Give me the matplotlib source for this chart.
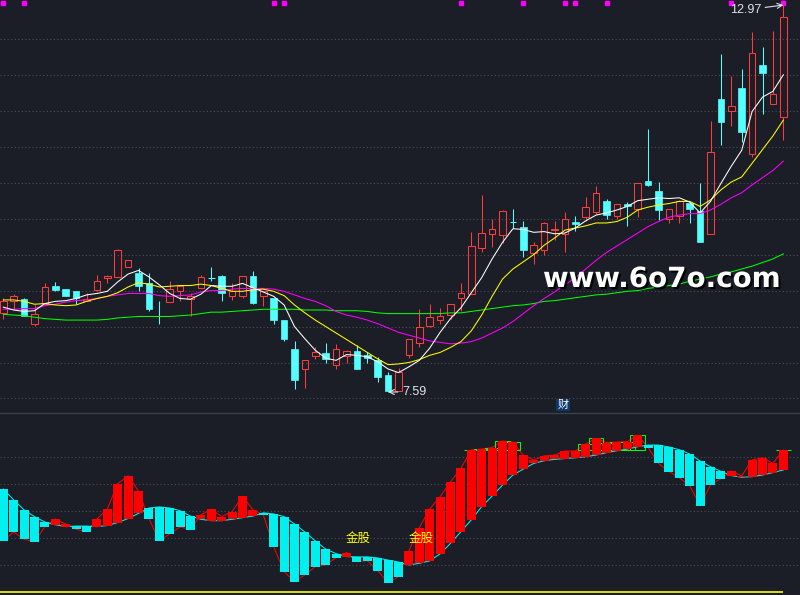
import matplotlib
matplotlib.use("Agg")
import matplotlib.pyplot as plt
import matplotlib.patheffects as pe
import matplotlib.transforms as mtransforms
from matplotlib.patches import Rectangle
import numpy as np

# ---- daily bars ----
opens = [8.69, 8.85, 8.88, 8.54, 8.82, 9.06, 9.02, 8.99, 8.86, 9.01,
         9.17, 9.19, 9.33, 9.25, 9.10, 8.66, 8.84, 9.00, 8.88, 9.03,
         9.19, 9.20, 8.92, 8.93, 9.20, 8.92, 8.90, 8.59, 8.19, 7.91,
         8.09, 8.13, 7.96, 8.09, 8.16, 8.10, 8.04, 7.83, 7.61, 8.11,
         8.27, 8.51, 8.59, 8.66, 8.89, 8.95, 9.59, 9.78, 9.77, 9.96,
         9.88, 9.52, 9.57, 9.84, 9.78, 9.95, 10.02, 10.09, 10.24, 10.04,
         10.20, 10.13, 10.52, 10.39, 10.00, 10.04, 10.22, 10.11, 9.78, 11.66,
         11.49, 11.81, 10.90, 12.14, 11.59, 11.41]
highs = [8.89, 8.95, 8.89, 8.80, 9.11, 9.12, 9.02, 9.00, 8.96, 9.22,
         9.22, 9.58, 9.43, 9.31, 9.25, 8.86, 9.13, 9.06, 8.96, 9.22,
         9.33, 9.22, 9.11, 9.20, 9.27, 8.99, 8.90, 8.59, 8.30, 8.04,
         8.21, 8.27, 8.26, 8.18, 8.24, 8.14, 8.08, 7.87, 7.93, 8.32,
         8.75, 8.81, 8.76, 8.81, 9.11, 9.81, 10.33, 9.99, 10.12, 10.13,
         9.97, 9.68, 9.96, 9.97, 10.09, 10.04, 10.30, 10.45, 10.27, 10.20,
         10.23, 10.49, 11.25, 10.51, 10.14, 10.26, 10.22, 10.50, 11.36, 12.29,
         11.98, 12.08, 12.59, 12.38, 12.61, 12.97]
lows = [8.60, 8.75, 8.64, 8.51, 8.80, 8.99, 8.92, 8.82, 8.85, 8.99,
        9.11, 9.19, 9.33, 8.99, 8.71, 8.53, 8.84, 8.85, 8.64, 9.03,
        9.14, 8.86, 8.87, 8.89, 8.81, 8.79, 8.54, 8.30, 7.63, 7.65,
        8.05, 8.00, 7.91, 7.99, 7.91, 7.99, 7.73, 7.59, 7.60, 8.06,
        8.22, 8.50, 8.54, 8.61, 8.72, 8.95, 9.53, 9.60, 9.66, 9.87,
        9.47, 9.37, 9.50, 9.70, 9.54, 9.83, 9.97, 10.07, 9.99, 10.00,
        9.90, 10.02, 10.45, 9.98, 9.94, 9.94, 9.94, 9.68, 9.78, 11.02,
        11.29, 11.06, 10.86, 11.45, 11.59, 11.10]
closes = [8.86, 8.93, 8.65, 8.67, 9.05, 9.01, 8.92, 8.89, 8.88, 9.13,
          9.20, 9.56, 9.43, 9.06, 8.74, 8.65, 9.02, 9.06, 8.93, 9.19,
          9.18, 8.96, 8.99, 9.20, 8.83, 8.99, 8.59, 8.33, 7.76, 8.04,
          8.15, 8.05, 8.19, 8.16, 7.91, 8.06, 7.80, 7.60, 7.87, 8.32,
          8.49, 8.63, 8.64, 8.81, 8.96, 9.62, 9.80, 9.85, 10.10, 9.95,
          9.57, 9.63, 9.94, 9.86, 9.99, 9.92, 10.16, 10.35, 10.05, 10.20,
          10.18, 10.49, 10.47, 10.12, 10.14, 10.24, 10.14, 9.68, 10.93, 11.35,
          11.57, 11.20, 12.31, 12.03, 11.74, 12.80]

# moving averages as drawn on the chart
ma5 = [8.77, 8.73, 8.71, 8.72, 8.82, 8.85, 8.86, 8.89, 8.94, 8.96,
       8.99, 9.12, 9.23, 9.28, 9.19, 9.08, 8.96, 8.89, 8.88, 8.95,
       9.07, 9.06, 9.06, 9.10, 9.04, 8.98, 8.92, 8.80, 8.50, 8.33,
       8.17, 8.06, 8.03, 8.11, 8.10, 8.08, 8.01, 7.91, 7.86, 7.94,
       8.03, 8.20, 8.42, 8.61, 8.76, 8.97, 9.18, 9.44, 9.67, 9.86,
       9.85, 9.81, 9.82, 9.79, 9.80, 9.87, 9.97, 10.05, 10.08, 10.12,
       10.17, 10.25, 10.27, 10.29, 10.28, 10.29, 10.23, 10.08, 10.24, 10.49,
       10.73, 10.95, 11.49, 11.69, 11.77, 12.00]
ma10 = [8.87, 8.87, 8.85, 8.81, 8.82, 8.80, 8.79, 8.80, 8.85, 8.89,
        8.92, 8.97, 9.05, 9.11, 9.09, 9.05, 9.06, 9.07, 9.07, 9.09,
        9.07, 9.03, 8.99, 8.99, 9.01, 9.02, 8.99, 8.93, 8.80, 8.69,
        8.59, 8.50, 8.41, 8.32, 8.23, 8.14, 8.05, 7.97, 7.98, 8.00,
        8.04, 8.10, 8.14, 8.21, 8.29, 8.44, 8.66, 8.92, 9.16, 9.30,
        9.40, 9.50, 9.63, 9.73, 9.84, 9.87, 9.90, 9.94, 9.94, 9.96,
        10.02, 10.12, 10.16, 10.19, 10.21, 10.24, 10.24, 10.17, 10.26, 10.40,
        10.51, 10.58, 10.77, 10.96, 11.15, 11.37]
ma20 = [8.74, 8.74, 8.75, 8.75, 8.79, 8.81, 8.84, 8.86, 8.87, 8.89,
        8.92, 8.94, 8.96, 8.96, 8.96, 8.93, 8.92, 8.93, 8.94, 8.98,
        9.00, 9.00, 9.02, 9.03, 9.03, 9.03, 9.02, 8.99, 8.94, 8.89,
        8.85, 8.79, 8.71, 8.66, 8.63, 8.59, 8.54, 8.48, 8.42, 8.38,
        8.34, 8.30, 8.28, 8.26, 8.27, 8.29, 8.34, 8.41, 8.48, 8.57,
        8.68, 8.79, 8.89, 8.98, 9.08, 9.18, 9.30, 9.42, 9.53, 9.62,
        9.71, 9.80, 9.89, 9.96, 10.02, 10.05, 10.07, 10.07, 10.12, 10.20,
        10.29, 10.36, 10.47, 10.57, 10.67, 10.80]
ma60 = [8.67, 8.66, 8.65, 8.63, 8.61, 8.60, 8.59, 8.59, 8.59, 8.59,
        8.60, 8.62, 8.63, 8.64, 8.64, 8.64, 8.64, 8.65, 8.66, 8.68,
        8.70, 8.70, 8.71, 8.72, 8.73, 8.74, 8.74, 8.74, 8.74, 8.73,
        8.73, 8.73, 8.72, 8.72, 8.72, 8.71, 8.69, 8.68, 8.68, 8.68,
        8.68, 8.68, 8.68, 8.69, 8.69, 8.71, 8.73, 8.75, 8.77, 8.79,
        8.80, 8.82, 8.85, 8.86, 8.88, 8.90, 8.92, 8.94, 8.95, 8.97,
        8.99, 9.00, 9.03, 9.05, 9.07, 9.09, 9.13, 9.16, 9.19, 9.23,
        9.26, 9.30, 9.34, 9.39, 9.44, 9.51]

# top-edge signal squares and the "财" marker
signal_idx = [0, 2, 26, 27, 44, 50, 54, 55, 58, 70, 75]
cai_idx = 54

# ---- lower indicator panel ----
fast = [1.92, 2.24, 1.97, 1.88, 2.44, 2.72, 2.54, 2.34, 2.25, 2.72,
        3.09, 4.03, 4.32, 3.76, 2.74, 1.92, 2.17, 2.43, 2.33, 2.88,
        3.09, 2.81, 2.99, 3.57, 3.06, 2.88, 1.70, 0.77, 0.40, 0.65,
        0.96, 1.02, 1.29, 1.48, 1.14, 1.18, 0.81, 0.36, 0.59, 1.54,
        2.40, 3.09, 3.55, 4.10, 4.60, 5.28, 5.31, 5.37, 5.61, 5.57,
        5.09, 4.91, 5.06, 5.09, 5.24, 5.24, 5.50, 5.71, 5.55, 5.57,
        5.59, 5.83, 5.37, 4.78, 4.48, 4.25, 3.96, 3.22, 3.98, 4.22,
        4.50, 4.32, 4.91, 4.99, 4.78, 5.28]
slow = [3.83, 3.43, 3.06, 2.81, 2.61, 2.51, 2.44, 2.46, 2.46, 2.44,
        2.48, 2.59, 2.74, 2.93, 3.13, 3.17, 3.13, 3.03, 2.83, 2.71,
        2.66, 2.66, 2.71, 2.77, 2.83, 2.95, 2.91, 2.81, 2.54, 2.24,
        1.91, 1.61, 1.44, 1.33, 1.32, 1.32, 1.28, 1.20, 1.13, 1.02,
        1.08, 1.17, 1.43, 1.82, 2.25, 2.69, 3.18, 3.57, 3.98, 4.35,
        4.57, 4.78, 4.88, 4.93, 4.96, 4.99, 5.03, 5.09, 5.18, 5.25,
        5.31, 5.40, 5.46, 5.46, 5.39, 5.29, 5.13, 4.87, 4.66, 4.49,
        4.33, 4.27, 4.29, 4.35, 4.44, 4.54]
top_level = 5.27
jingu_idx = [33, 39]

BG = "#1b1e26"
GRID = "#4a4e58"
UP = "#ff3b3b"
DOWN = "#54ffff"
RED = "#ff0000"
CYAN = "#00f0f0"
LBL = "#dde3ee"
CJK = ["Noto Sans CJK SC", "DejaVu Sans"]
LW = 0.75

n = len(closes)
idx = np.arange(n)
o, h, l, c = map(np.asarray, (opens, highs, lows, closes))

fig = plt.figure(figsize=(8.0, 5.95), dpi=100, facecolor=BG)
split = 182 / 595
ax = fig.add_axes([0, split, 1, 1 - split])
axb = fig.add_axes([0, 0, 1, split])
xlim = (-3.3 / 10.4, (800 - 3.3) / 10.4)
for a in (ax, axb):
    a.set_facecolor(BG)
    a.set_xlim(*xlim)
    a.set_xticks([])
    a.set_yticks([])
    for s in a.spines.values():
        s.set_visible(False)
ax.set_ylim(7.298, 13.04)
axb.set_ylim(-0.093, 6.648)
axb.spines["top"].set_visible(True)
axb.spines["top"].set_color("#3d4048")
axb.spines["top"].set_linewidth(1.0)

dots = (0, (1.0, 2.2))
for p in np.arange(7.5, 12.51, 0.5):
    ax.axhline(p, color=GRID, lw=0.8, ls=dots, zorder=0)
for v in range(1, 6):
    axb.axhline(v, color=GRID, lw=0.8, ls=dots, zorder=0)

# candles
w = 0.64
for i in idx:
    if c[i] >= o[i]:
        top, bot = c[i], o[i]
        ax.vlines(i, top, h[i], color=UP, lw=LW, zorder=2)
        ax.vlines(i, l[i], bot, color=UP, lw=LW, zorder=2)
        if top - bot < 0.015:
            ax.hlines(bot, i - w / 2, i + w / 2, color=UP, lw=LW, zorder=2)
        else:
            ax.add_patch(Rectangle((i - w / 2, bot), w, top - bot, fill=False,
                                   edgecolor=UP, lw=LW, zorder=2))
    else:
        ax.vlines(i, l[i], h[i], color=DOWN, lw=LW, zorder=2)
        if o[i] - c[i] < 0.015:
            ax.hlines(c[i], i - w / 2, i + w / 2, color=DOWN, lw=LW, zorder=2)
        else:
            ax.add_patch(Rectangle((i - w / 2, c[i]), w, o[i] - c[i],
                                   facecolor=DOWN, edgecolor=DOWN, lw=0.5, zorder=2))

ax.plot(idx, ma60, color="#00ff00", lw=LW, zorder=3)
ax.plot(idx, ma20, color="#ff00ff", lw=LW, zorder=3)
ax.plot(idx, ma10, color="#ffff00", lw=LW, zorder=3)
ax.plot(idx, ma5, color="#ffffff", lw=LW, zorder=3)

trans = mtransforms.blended_transform_factory(ax.transData, ax.transAxes)
ax.plot(signal_idx, [0.992] * len(signal_idx), "s", ms=2.4, color="#ff00ff",
        transform=trans, zorder=5, clip_on=False)

ih = int(np.argmax(h))
il = int(np.argmin(l))
ax.annotate(f"{h[ih]:.2f}", xy=(ih, h[ih]), xytext=(-38, -5), textcoords="offset pixels",
            ha="center", va="center", color=LBL, fontsize=9, family="Liberation Sans",
            arrowprops=dict(arrowstyle="->", color=LBL, lw=0.8, shrinkA=1, shrinkB=0),
            zorder=6)
ax.annotate(f"{l[il]:.2f}", xy=(il, l[il]), xytext=(26, 0), textcoords="offset pixels",
            ha="center", va="center", color=LBL, fontsize=9, family="Liberation Sans",
            arrowprops=dict(arrowstyle="->", color=LBL, lw=0.8, shrinkA=1, shrinkB=0),
            zorder=6)

ax.text(cai_idx - 0.15, 7.41, "财", fontsize=8, color="white", ha="center", va="center",
        family=CJK, zorder=6,
        bbox=dict(boxstyle="square,pad=0.12", fc="#0c3a6c", ec="none"))

# lower panel
fa, sl = np.asarray(fast), np.asarray(slow)
axb.plot(idx, fa, color=RED, lw=LW, zorder=2)
axb.plot(idx, sl, color=CYAN, lw=LW, zorder=2)
bw = 0.87
for i in idx:
    up = fa[i] >= sl[i]
    lo, hi = min(fa[i], sl[i]), max(fa[i], sl[i])
    if up and fa[i] >= top_level:
        axb.add_patch(Rectangle((i - 0.7, top_level), 1.4, fa[i] - top_level, fill=False,
                                edgecolor="#00ff00", lw=LW, zorder=2.5))
    axb.add_patch(Rectangle((i - bw / 2, lo), bw, hi - lo,
                            facecolor=RED if up else CYAN, lw=0, zorder=3))
axb.hlines(0, xlim[0], n - 1, color="#ffff00", lw=1.2, zorder=3)

for j in jingu_idx:
    axb.text(j - 0.05, 2.0, "金股", fontsize=9, color="#ffff00", ha="left", va="center",
             family=CJK, zorder=6)

fig.text(543 / 800, 1 - 287 / 595, "www.6o7o.com", fontsize=20, fontweight="bold",
         color="white", ha="left", va="baseline", zorder=10,
         path_effects=[pe.withSimplePatchShadow(offset=(1.5, -1.5),
                                                shadow_rgbFace="black", alpha=0.9)])

fig.savefig("out.png", dpi=100, facecolor=BG)
